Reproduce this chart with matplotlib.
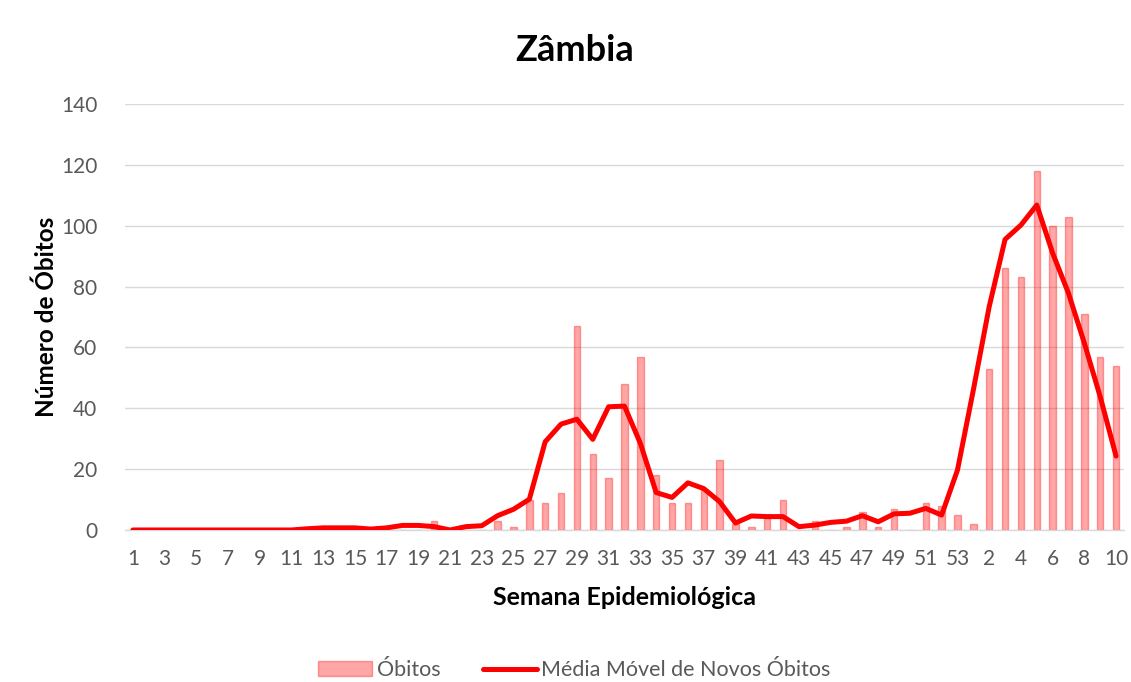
import numpy as np
import matplotlib
matplotlib.use('Agg')
import matplotlib.pyplot as plt

plt.rcParams['font.family'] = ['Lato', 'DejaVu Sans']

# semanas epidemiológicas: 1..53 de um ano, 1..10 do seguinte
semanas = [str(s) for s in range(1, 54)] + [str(s) for s in range(1, 11)]

obitos = [0, 0, 0, 0, 0, 0, 0, 0, 0, 0,
          0, 0, 0, 0, 0, 0, 0, 0, 0, 3,
          0, 0, 0, 3, 1, 10, 9, 12, 67, 25,
          17, 48, 57, 18, 9, 9, 13, 23, 2, 1,
          4, 10, 0, 3, 0, 1, 6, 1, 7, 0,
          9, 8, 5, 2, 53, 86, 83, 118, 100, 103,
          71, 57, 54]

media_movel = [0, 0, 0, 0, 0, 0, 0, 0, 0, 0,
               0, 0.4, 0.7, 0.7, 0.7, 0.3, 0.7, 1.5, 1.5, 1.1,
               0, 1.1, 1.4, 4.7, 6.8, 10.1, 29, 34.8, 36.4, 29.8,
               40.5, 40.7, 28.5, 12.3, 10.7, 15.5, 13.6, 9.3, 2.3, 4.6,
               4.4, 4.4, 1.1, 1.6, 2.5, 2.9, 4.7, 2.7, 5.3, 5.5,
               7.1, 4.9, 19.7, 46, 73.4, 95.5, 100.2, 106.8, 91, 77.8,
               61.4, 43.8, 24.3]

x = np.arange(len(semanas))
cinza = '#595959'

fig = plt.figure(figsize=(11.31, 6.82), dpi=100)
ax = fig.add_axes([0.1105, 0.2229, 0.8833, 0.6246])

barras = ax.bar(x, obitos, width=0.4, facecolor=(1, 0, 0, 0.35),
                edgecolor=(1, 0, 0, 0.35), linewidth=1, zorder=2, label='Óbitos')
linha, = ax.plot(x, media_movel, color='#FF0000', linewidth=3.6, zorder=3,
                 solid_capstyle='round', solid_joinstyle='round',
                 label='Média Móvel de Novos Óbitos')

ax.set_xlim(-0.5, len(semanas) - 0.5)
ax.set_ylim(0, 140)
ax.set_yticks(range(0, 141, 20))
ax.set_xticks(x[::2])
ax.set_xticklabels(semanas[::2])

ax.grid(axis='y', color='#D9D9D9', linewidth=1, zorder=0)
ax.set_axisbelow(True)
for s in ['top', 'right', 'left']:
    ax.spines[s].set_visible(False)
ax.spines['bottom'].set_color('#D9D9D9')
ax.spines['bottom'].set_linewidth(1)
ax.tick_params(axis='both', length=0, labelsize=15, labelcolor=cinza)
ax.tick_params(axis='x', pad=14)
ax.tick_params(axis='y', pad=20)

fig.text(0.508, 0.926, 'Zâmbia', fontsize=26, fontweight='bold',
         ha='center', va='center')
ax.set_ylabel('Número de Óbitos', fontsize=17.5, fontweight='bold', labelpad=2)
ax.set_xlabel('Semana Epidemiológica', fontsize=18, fontweight='bold', labelpad=12)

leg = fig.legend([barras, linha], ['Óbitos', 'Média Móvel de Novos Óbitos'],
                 loc='center', bbox_to_anchor=(0.508, 0.017), ncol=2,
                 frameon=False, fontsize=15.5, handlelength=2.5,
                 columnspacing=2.0, handletextpad=0.2)
for t in leg.get_texts():
    t.set_color(cinza)

fig.savefig('out.png', dpi=100)
